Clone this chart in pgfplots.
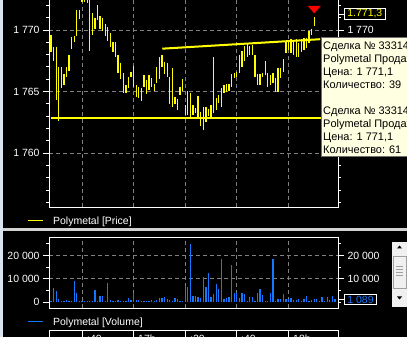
\documentclass[border=0pt]{standalone}
\usepackage{fontspec}
\setmainfont{Liberation Sans}
\usepackage{pgfplots}
\usepackage{pgfplotstable}
\pgfplotsset{compat=1.18}

\definecolor{pyellow}{RGB}{255,255,0}
\definecolor{vblue}{RGB}{20,120,255}
\definecolor{gridgray}{RGB}{128,128,128}
\definecolor{winedge}{RGB}{216,228,240}
\definecolor{panelsep}{RGB}{210,210,210}
\definecolor{tipbg}{RGB}{255,255,225}
\definecolor{tipedge}{RGB}{110,110,110}
\definecolor{scrollbg}{RGB}{240,240,240}
\definecolor{scrolledge}{RGB}{160,160,160}

% one-minute price bars: minutes after 16:40, low, high
\pgfplotstableread{
t low high
-12 1768.21 1769.60
-11 1767.48 1768.62
-10 1764.31 1768.62
-9 1762.60 1766.99
-8 1765.28 1766.99
-7 1765.53 1766.42
-6 1766.18 1766.99
-5 1766.67 1767.97
-4 1768.46 1769.43
-3 1769.02 1769.51
-2 1769.51 1771.63
-1 1770.90 1771.63
0 1772.28 1773.00
1 1772.28 1773.00
2 1772.20 1773.00
3 1768.29 1773.00
4 1769.60 1771.38
5 1770.08 1770.98
6 1770.81 1772.03
7 1770.08 1771.14
8 1769.92 1770.98
9 1769.51 1770.49
10 1769.11 1770.24
11 1768.62 1769.76
12 1768.21 1769.02
13 1767.80 1769.02
14 1766.50 1767.97
15 1766.02 1767.32
16 1764.88 1766.50
17 1764.88 1765.53
18 1765.28 1766.18
19 1766.18 1766.59
20 1765.37 1767.07
21 1764.55 1765.53
22 1764.47 1765.37
23 1764.23 1765.28
24 1765.37 1766.34
25 1764.80 1765.94
26 1765.12 1766.34
27 1765.37 1766.10
28 1765.04 1765.61
29 1765.69 1766.99
30 1766.02 1767.80
31 1766.99 1767.97
32 1766.42 1767.40
33 1766.18 1767.32
34 1763.98 1766.18
35 1763.74 1766.91
36 1763.98 1764.55
37 1763.50 1764.39
38 1764.72 1765.37
39 1765.04 1766.02
40 1763.09 1763.90
41 1763.09 1765.04
42 1762.85 1764.88
43 1763.09 1763.90
44 1763.25 1763.66
45 1762.85 1764.64
46 1762.20 1763.33
47 1761.87 1763.74
48 1762.52 1763.74
49 1763.01 1763.58
50 1762.93 1763.90
51 1763.25 1767.80
52 1763.50 1764.47
53 1764.07 1764.72
54 1763.74 1765.28
55 1764.88 1765.53
56 1764.96 1765.61
57 1765.04 1765.61
58 1765.37 1766.42
59 1766.10 1766.50
60 1766.18 1766.59
61 1766.50 1767.97
62 1766.99 1768.29
63 1767.48 1768.70
64 1767.80 1768.86
65 1767.97 1768.70
66 1767.97 1768.78
67 1766.18 1767.97
68 1765.53 1766.42
69 1765.53 1766.42
70 1766.18 1766.50
71 1766.34 1767.48
72 1765.37 1766.50
73 1765.53 1766.34
74 1765.69 1766.50
75 1764.96 1766.10
76 1764.96 1766.91
77 1766.10 1766.91
78 1766.59 1767.64
79 1768.13 1769.02
80 1768.37 1769.19
81 1768.13 1769.27
82 1767.97 1769.02
83 1767.80 1769.27
84 1767.80 1768.94
85 1768.21 1769.27
86 1768.37 1769.35
87 1768.54 1769.35
88 1768.94 1769.92
89 1769.60 1770.08
90 1770.33 1771.06
}\pricebars

% one-minute traded volume
\pgfplotstableread{
t v
-12 300
-11 6100
-10 4900
-9 1400
-8 400
-7 400
-6 900
-5 400
-4 600
-3 9100
-2 4000
-1 600
0 300
1 300
2 400
3 600
4 300
5 5300
6 600
7 2700
8 2700
9 400
10 8300
11 900
12 300
13 600
14 900
15 400
16 400
17 300
18 1700
19 700
20 3700
21 900
22 900
23 600
24 600
25 400
26 300
27 900
28 400
29 900
30 1900
31 1600
32 2100
33 1400
34 700
35 400
36 1700
37 1400
38 600
39 600
40 7000
41 6300
42 24900
43 2600
44 2600
45 2300
46 1900
47 10600
48 6300
49 12300
50 2000
51 3400
52 7600
53 5700
54 18600
55 1400
56 1900
57 2300
58 16000
59 4000
60 4000
61 1700
62 4000
63 3400
64 600
65 2300
66 2300
67 600
68 4000
69 5400
70 3100
71 600
72 600
73 4000
74 18300
75 600
76 1400
77 1400
78 3600
79 1100
80 1400
81 1700
82 900
83 900
84 1100
85 600
86 1400
87 2600
88 600
89 900
90 1100
91 1100
92 600
93 2300
94 600
95 2300
96 900
97 2600
98 1089
}\volume

% trade marker: a downward pointing triangle with its tip on the price
\pgfdeclareplotmark{downtri}{%
  \pgfpathmoveto{\pgfpoint{0bp}{0bp}}%
  \pgfpathlineto{\pgfpoint{-6.5bp}{7.5bp}}%
  \pgfpathlineto{\pgfpoint{6.5bp}{7.5bp}}%
  \pgfpathclose\pgfusepathqfill}

\tikzset{
  boxedlabel/.style={draw=white, fill=black, text=#1,
    inner xsep=3bp, inner ysep=1.5bp, line width=0.8bp},
  keytext/.style={anchor=base west, inner sep=0pt, text=white,
    font=\fontsize{10.5}{12}\selectfont},
}

\pgfplotsset{
  panel/.style={
    scale only axis, width=289bp, anchor=south west,
    xmin=-12.79, xmax=99.2,
    font=\fontsize{10.5}{12}\selectfont,
    axis line style={white, line width=0.8bp},
    tick style={white, line width=0.8bp},
    tick align=outside,
    major tick length=6bp, minor tick length=3bp,
    ticklabel style={text=white},
    scaled y ticks=false,
    /pgf/number format/assume math mode=true,
    /pgf/number format/1000 sep={\ },
    grid style={gridgray, line width=0.8bp, dash pattern=on 4bp off 3bp},
    xtick={0,20,40,60,80}, xticklabels={},
    x tick style={draw=none},
  },
  pricey/.style={height=209bp, ymin=1755.61, ymax=1772.6,
    ytick={1760,1765,1770}, minor ytick={1756,...,1772}},
  voly/.style={height=71bp, ymin=-2575, ymax=27897,
    ytick={10000,20000}},
}

\begin{document}
\begin{tikzpicture}
\useasboundingbox (0bp,0bp) rectangle (407bp,337bp);
\clip (0bp,0bp) rectangle (407bp,337bp);
\begin{scope}[x=1bp,y=1bp]
  \fill[black] (0,0) rectangle (407,337);
  \fill[winedge] (0,0) rectangle (3,337);
  \fill[panelsep] (3,106.3) rectangle (407,108.6);
\end{scope}

% ---------- price panel ----------
\begin{axis}[panel, pricey, at={(49bp,130bp)},
  xmajorgrids, ymajorgrids, ytick pos=left]
  \addplot[draw=none, mark=none,
    error bars/.cd, y dir=minus, y explicit, error mark=none,
    error bar style={draw=pyellow, line width=1.3bp}]
    table[x=t, y=high, y error minus expr=\thisrow{high}-\thisrow{low}] {\pricebars};
  % support and trend lines
  \addplot[pyellow, line width=2bp] coordinates {(-12.1,1762.82) (99.2,1762.82)};
  \addplot[pyellow, line width=2bp] coordinates {(31.1,1768.48) (92.3,1769.25)};
  % last trade
  \addplot[only marks, mark=downtri, red, mark options={yshift=3bp}] coordinates {(90,1771.1)};
\end{axis}
\begin{axis}[panel, pricey, at={(49bp,130bp)},
  hide x axis, axis y line*=right,
  yticklabels={{},{},{1 770}},
  extra y ticks={1771.3},
  extra y tick style={yticklabel style={boxedlabel=pyellow,
    /pgf/number format/.cd, fixed, fixed zerofill, precision=1, use comma}}]
\end{axis}

% ---------- volume panel ----------
\begin{axis}[panel, voly, at={(49bp,29bp)},
  xmajorgrids, ymajorgrids, ytick pos=left,
  minor ytick={5000,15000,25000},
  extra y ticks={0}, extra y tick style={grid=none}]
  \addplot[vblue, ycomb, line width=1.3bp] table[x=t, y=v] {\volume};
\end{axis}
\begin{axis}[panel, voly, at={(49bp,29bp)},
  hide x axis, axis y line*=right,
  minor ytick={0,5000,15000,25000},
  extra y ticks={1089},
  extra y tick style={yticklabel style={boxedlabel=vblue}}]
\end{axis}

\begin{scope}[x=1bp,y=1bp]
  % series keys under each panel
  \draw[pyellow, line width=1.2bp] (28,116.5) -- (43,116.5);
  \node[keytext] at (53,113) {Polymetal [Price]};
  \draw[vblue, line width=1.2bp] (28,15.5) -- (43,15.5);
  \node[keytext] at (53,12) {Polymetal [Volume]};

  % time scale strip
  \draw[white, line width=0.8bp] (49,7) -- (338,7);
  \foreach \xx in {49,82,133.6,185.2,236.8,288.4,338}
    \draw[white, line width=0.8bp] (\xx,7) -- (\xx,-3);
  \foreach \xx/\lab in {87/{:40},138/{17h},190/{:20},241/{:40},293/{18h}}
    \node[keytext] at (\xx,-5) {\lab};

  % trade tooltip
  \filldraw[fill=tipbg, draw=tipedge, line width=1bp] (321,180) rectangle (412,299.5);
  \begin{scope}[every node/.style={anchor=base west, inner sep=0pt, text=black,
      font=\fontsize{11}{13}\selectfont}]
    \node at (323,288) {Сделка № 33314};
    \node at (323,275) {Polymetal Продажа};
    \node at (323,262) {Цена: 1 771,1};
    \node at (323,249) {Количество: 39};
    \node at (323,223) {Сделка № 33314};
    \node at (323,210) {Polymetal Продажа};
    \node at (323,197) {Цена: 1 771,1};
    \node at (323,184) {Количество: 61};
  \end{scope}

  % scroll bar
  \fill[scrollbg] (392,30) rectangle (407,95);
  \fill[black] (397,88.5) -- (402,88.5) -- (399.5,91.5) -- cycle;
  \fill[black] (397,40.5) -- (402,40.5) -- (399.5,37.5) -- cycle;
  \filldraw[fill=scrollbg, draw=scrolledge, line width=0.8bp] (393,48.7) rectangle (406,80.3);
  \foreach \yy in {62,65,68,71}
    \draw[scrolledge, line width=0.8bp] (396,\yy) -- (403,\yy);
\end{scope}
\end{tikzpicture}
\end{document}
